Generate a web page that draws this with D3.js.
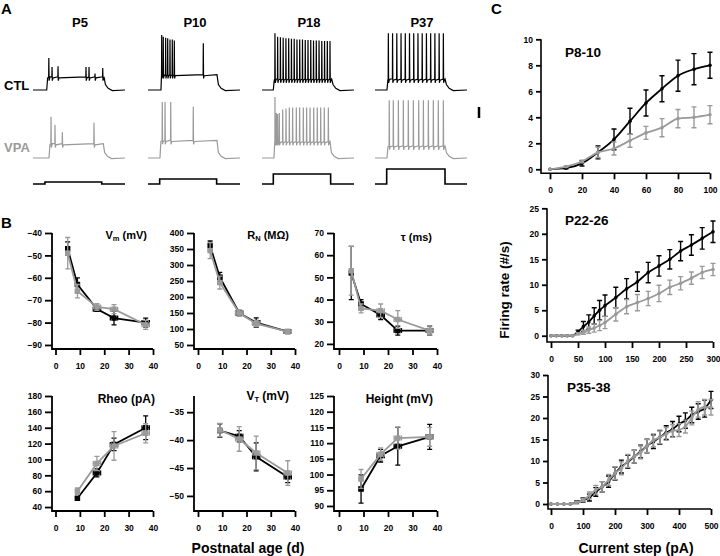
<!DOCTYPE html>
<html><head><meta charset="utf-8">
<script src="https://cdn.jsdelivr.net/npm/d3@7"></script>
<style>
body{margin:0;background:#fff}
text{font-family:"Liberation Sans",Arial,sans-serif;font-weight:bold}
</style>
</head><body>
<svg id="c" width="720" height="556"></svg>
<script>
// ---------------- DATA ----------------
// Panel A: example recordings (time in ms, voltage in mV, step in pA)
const ageLabels = ["P5", "P10", "P18", "P37"];
const stepAmp = [20, 50, 100, 150];
const stepOn = [130, 127, 123, 127];
const stepOff = [747, 746, 746, 761];
const ctlOn = [149, 141, 123, 130];
const ctlOff = [772, 750, 757, 761];
const ctlPlateau = [-46, -42, -50, -50];
const ctlSpikes = [
  [[172,-12],[207,-28],[272,-27],[576,-28],[609,-28],[674,-40],[758,-30]],
  [[149,30],[166,27],[192,25],[214,24],[239,22],[264,22],[286,20],[601,15]],
  [[141,33],[170,27],[200,26],[230,25],[260,24],[290,24],[320,23],[350,23],[380,22],[410,22],[440,22],[470,21],[500,21],[530,21],[560,20],[590,20],[620,20],[650,19],[680,19],[710,19],[739,19]],
  [[145,33],[191,33],[237,33],[283,33],[329,33],[375,33],[421,33],[467,33],[513,33],[559,33],[605,33],[651,33],[697,33],[743,33]]
];
const vpaOn = [174, 130, 130, 130];
const vpaOff = [764, 750, 739, 761];
const vpaPlateau = [-44, -38, -40, -48];
const vpaSpikes = [
  [[196,5],[239,-10],[319,-23],[663,-6]],
  [[155,32],[185,32],[247,32],[492,23]],
  [[141,41],[156,12],[170,10],[188,12],[225,18],[261,20],[297,22],[333,22],[373,22],[409,22],[449,22],[485,22],[522,22],[562,22],[601,22],[638,22],[677,22],[721,22]],
  [[155,35],[199,35],[254,35],[308,35],[362,35],[417,35],[475,35],[526,35],[580,35],[634,35],[688,35],[743,35]]
];

// Panel B: developmental profile (age in days)
const bAges = [5, 9, 17, 24, 37];
const bAgesLate = [9, 17, 24, 37];
const bAgeErr = [0.5, 0.8, 1.5, 1.5, 1.5];
const bAgeErrLate = [0.8, 1.5, 1.5, 1.5];
const vmCTL = [-47, -63, -74, -78, -80], vmCTLErr = [3, 3, 1, 3, 2];
const vmVPA = [-49, -66, -73, -74, -81], vmVPAErr = [7, 3, 1.5, 2, 2];
const rnCTL = [360, 262, 150, 120, 92], rnCTLErr = [15, 15, 8, 15, 5];
const rnVPA = [345, 245, 150, 117, 92], rnVPAErr = [25, 20, 10, 10, 5];
const tauCTL = [52, 38, 33, 26, 26], tauCTLErr = [12, 2, 2, 2, 2];
const tauVPA = [53, 36, 35, 31, 26], tauVPAErr = [11, 2, 3, 4, 2];
const rheoCTL = [51, 83, 119, 140], rheoCTLErr = [2, 5, 8, 15];
const rheoVPA = [60, 95, 117, 133], rheoVPAErr = [4, 9, 18, 12];
const vtCTL = [-38.3, -39.3, -43, -46.6], vtCTLErr = [1.2, 1, 2.5, 1];
const vtVPA = [-38.2, -39.8, -42.3, -45.9], vtVPAErr = [1.2, 2.2, 3, 2.2];
const htCTL = [95.4, 106, 109, 112], htCTLErr = [4.5, 2, 6, 4];
const htVPA = [98.6, 106.5, 111.6, 112], htVPAErr = [3, 2, 3.5, 3];
const bXTicks = [0, 10, 20, 30, 40];

// Panel C: firing rate vs current step
const c1X = [0,10,20,30,40,50,60,70,80,90,100];
const c1CTL = [0,0.08,0.45,1.3,2.3,3.7,5.1,6.2,7.2,7.7,8.0];
const c1CTLErr = [0,0.05,0.2,0.5,0.8,1.0,1.0,1.0,1.2,1.2,1.0];
const c1VPA = [0,0.2,0.6,1.3,1.6,2.2,2.8,3.2,3.9,4.0,4.2];
const c1VPAErr = [0,0.05,0.1,0.4,0.5,0.5,0.5,0.7,0.7,0.8,0.7];
const c2X = [0,10,20,30,40,50,60,70,80,90,100,120,140,160,180,200,220,240,260,280,300];
const c2CTL = [0,0,0,0,0,0.8,1.8,2.7,3.9,5.0,5.9,7.5,9.2,10.6,12.4,13.7,15.0,16.6,17.8,19.1,20.4];
const c2CTLErr = [0,0,0,0,0,0.3,1,1.4,1.6,1.9,2.1,2,2,1.9,2,2,1.9,1.9,2,2.1,2.1];
const c2VPA = [0,0,0,0,0,0.4,0.7,1.1,1.5,2.0,2.6,4.2,5.7,6.5,7.3,8.3,9.5,10.3,11.3,12.4,13.0];
const c2VPAErr = [0,0,0,0,0,0.2,0.4,0.6,0.8,1,1.2,1.3,1.4,1.6,1.4,1.6,1.4,1.3,1.2,1.2,1.2];
const c3X = [0,20,40,60,80,100,120,140,160,180,200,220,240,260,280,300,320,340,360,380,400,420,440,460,480,500];
const c3CTL = [0,0,0,0,0.4,0.9,1.5,2.8,4.0,5.2,7.1,8.7,9.8,11.0,12.2,13.5,14.5,15.5,16.6,17.4,18.6,19.4,20.7,21.5,22.2,24.2];
const c3CTLErr = [0,0,0,0,0.3,0.5,0.8,1,1.2,1.3,1.5,1.5,1.5,1.5,1.5,1.6,1.6,1.6,1.6,1.8,1.8,1.8,1.8,1.8,2,2];
const c3VPA = [0,0,0,0,0.4,0.9,2.0,3.3,4.0,5.6,7.2,8.3,10.0,11.0,12.0,13.5,14.8,15.5,16.3,17.0,17.2,18.0,20.0,22.0,22.5,22.5];
const c3VPAErr = [0,0,0,0,0.2,0.4,0.8,1,1.2,1.3,1.5,1.5,1.5,1.5,1.5,1.5,1.5,1.5,1.5,1.5,1.5,1.5,1.6,1.8,1.8,1.8];

// ---------------- DRAW ----------------
const BLACK = "#000", GRAY = "#9a9a9a";
const svg = d3.select("#c");

function txt(x, y, s, size, opt = {}) {
  return svg.append("text").attr("x", x).attr("y", y).attr("font-size", size)
    .attr("text-anchor", opt.anchor || "start").attr("fill", opt.fill || "#000").text(s);
}
// panel letters
txt(1, 14, "A", 15);
txt(1, 228, "B", 15);
txt(491, 14, "C", 15);

// ---- Panel A ----
const colX = [33, 148, 262, 375];
const traceW = 92;
const line = d3.line();
function tracePoints(on, off, plat, spikes) {
  const b = -70;
  let pts = [[0, b], [on, b], [on + 10, plat - 2], [on + 35, plat]];
  spikes.forEach(([t, pk]) => {
    pts.push([t - 2, plat], [t, pk], [t + 3, plat - 7], [t + 10, plat - 2]);
  });
  pts.push([off, plat], [off + 15, b + 10], [off + 45, b + 3], [off + 90, b - 1], [1000, b]);
  pts.sort((a, c) => a[0] - c[0]);
  return pts;
}
ageLabels.forEach((lab, i) => {
  const x = d3.scaleLinear().domain([0, 1000]).range([colX[i], colX[i] + traceW]);
  const yC = d3.scaleLinear().domain([-70, 30]).range([90, 35]);
  const yV = d3.scaleLinear().domain([-70, 30]).range([158, 103]);
  const yS = d3.scaleLinear().domain([0, 150]).range([184, 169]);
  txt(colX[i] + traceW / 2 + 1, 27, lab, 13, { anchor: "middle" });
  const pc = tracePoints(ctlOn[i], ctlOff[i], ctlPlateau[i], ctlSpikes[i]).map(p => [x(p[0]), yC(p[1])]);
  svg.append("path").attr("d", line(pc)).attr("fill", "none").attr("stroke", BLACK).attr("stroke-width", 1.2);
  const pv = tracePoints(vpaOn[i], vpaOff[i], vpaPlateau[i], vpaSpikes[i]).map(p => [x(p[0]), yV(p[1])]);
  svg.append("path").attr("d", line(pv)).attr("fill", "none").attr("stroke", GRAY).attr("stroke-width", 1.2);
  const ps = [[0, 0], [stepOn[i], 0], [stepOn[i], stepAmp[i]], [stepOff[i], stepAmp[i]], [stepOff[i], 0], [1000, 0]]
    .map(p => [x(p[0]), yS(p[1])]);
  svg.append("path").attr("d", line(ps)).attr("fill", "none").attr("stroke", BLACK).attr("stroke-width", 1.6);
});
txt(4, 90, "CTL", 13);
txt(4, 152, "VPA", 13, { fill: GRAY });
// scale bar (20 mV)
{
  const yV = d3.scaleLinear().domain([-70, 30]).range([158, 103]);
  svg.append("line").attr("x1", 479).attr("x2", 479).attr("y1", yV(-60) - 34.5).attr("y2", yV(-40) - 34.5)
    .attr("stroke", BLACK).attr("stroke-width", 2.5);
}

// ---- Panel B ----
function styleAxis(g, fs) {
  g.select(".domain").remove();
  g.selectAll("line").attr("stroke", "#000").attr("stroke-width", 1.8);
  g.selectAll("text").attr("font-size", fs).attr("fill", "#000")
    .style("font-family", '"Liberation Sans",Arial,sans-serif').style("font-weight", "bold");
}
function drawB(cfg) {
  const x = d3.scaleLinear().domain([0, 40]).range(cfg.xr);
  const y = d3.scaleLinear().domain(cfg.yd).range(cfg.yr);
  const g = svg.append("g");
  g.append("path").attr("d", `M${cfg.ax},${cfg.yr[1]}V${cfg.yr[0]}H${cfg.xr[1]}`)
    .attr("fill", "none").attr("stroke", "#000").attr("stroke-width", 1.8);
  const ya = g.append("g").attr("transform", `translate(${cfg.ax},0)`)
    .call(d3.axisLeft(y).tickValues(cfg.yt).tickSize(7).tickPadding(3));
  styleAxis(ya, 8.5);
  const xa = g.append("g").attr("transform", `translate(0,${cfg.yr[0]})`)
    .call(d3.axisBottom(x).tickValues(bXTicks).tickSize(6).tickPadding(8));
  styleAxis(xa, 8.5);
  const t = g.append("text").attr("x", cfg.tx).attr("y", cfg.ty).attr("text-anchor", "end").attr("font-size", cfg.tfs || 11);
  cfg.title.forEach(([s, sub]) => {
    if (sub) t.append("tspan").attr("font-size", 7.5).attr("dy", 2.5).text(s);
    else t.append("tspan").attr("dy", t.selectAll("tspan").size() && cfg.title.some(q => q[1]) ? -2.5 : 0).text(s);
  });
  cfg.series.forEach(s => {
    const pts = s.ages.map((a, i) => ({ x: x(a), y: y(s.v[i]), e: s.e[i], ae: s.ae[i], a, v: s.v[i] }));
    g.append("path").attr("d", d3.line()(pts.map(p => [p.x, p.y])))
      .attr("fill", "none").attr("stroke", s.c).attr("stroke-width", 1.8);
    pts.forEach(p => {
      const y1 = y(p.v + p.e), y2 = y(p.v - p.e);
      g.append("path").attr("d", `M${p.x},${y1}V${y2}M${p.x - 2.5},${y1}H${p.x + 2.5}M${p.x - 2.5},${y2}H${p.x + 2.5}`)
        .attr("stroke", s.c).attr("stroke-width", 1.3).attr("fill", "none");
      const x1 = x(p.a - p.ae), x2 = x(p.a + p.ae);
      g.append("path").attr("d", `M${x1},${p.y}H${x2}M${x1},${p.y - 2.5}V${p.y + 2.5}M${x2},${p.y - 2.5}V${p.y + 2.5}`)
        .attr("stroke", s.c).attr("stroke-width", 1.3).attr("fill", "none");
      g.append("rect").attr("x", p.x - 2.7).attr("y", p.y - 2.7).attr("width", 5.4).attr("height", 5.4).attr("fill", s.c);
    });
  });
}
const topR = [349, 233], botR = [511, 396];
const colB = [
  { ax: 52, xr: [55.5, 153] },
  { ax: 194, xr: [198, 295] },
  { ax: 334, xr: [339, 437] }
];
drawB({ ...colB[0], yr: topR, yd: [-91.8, -40], yt: [-90, -80, -70, -60, -50, -40],
  title: [["V"], ["m", 1], [" (mV)"]], tx: 147, ty: 241,
  series: [{ ages: bAges, ae: bAgeErr, v: vmCTL, e: vmCTLErr, c: BLACK }, { ages: bAges, ae: bAgeErr, v: vmVPA, e: vmVPAErr, c: GRAY }] });
drawB({ ...colB[1], yr: topR, yd: [37.5, 400], yt: [50, 100, 150, 200, 250, 300, 350, 400],
  title: [["R"], ["N", 1], [" (MΩ)"]], tx: 289, ty: 241,
  series: [{ ages: bAges, ae: bAgeErr, v: rnCTL, e: rnCTLErr, c: BLACK }, { ages: bAges, ae: bAgeErr, v: rnVPA, e: rnVPAErr, c: GRAY }] });
drawB({ ...colB[2], yr: topR, yd: [17.7, 70], yt: [20, 30, 40, 50, 60, 70],
  title: [["τ (ms)"]], tx: 432, ty: 241,
  series: [{ ages: bAges, ae: bAgeErr, v: tauCTL, e: tauCTLErr, c: BLACK }, { ages: bAges, ae: bAgeErr, v: tauVPA, e: tauVPAErr, c: GRAY }] });
drawB({ ...colB[0], yr: botR, yd: [35, 180], yt: [40, 60, 80, 100, 120, 140, 160, 180],
  title: [["Rheo (pA)"]], tx: 155, ty: 403, tfs: 12,
  series: [{ ages: bAgesLate, ae: bAgeErrLate, v: rheoCTL, e: rheoCTLErr, c: BLACK }, { ages: bAgesLate, ae: bAgeErrLate, v: rheoVPA, e: rheoVPAErr, c: GRAY }] });
drawB({ ...colB[1], yr: botR, yd: [-52.7, -32.1], yt: [-50, -45, -40, -35],
  title: [["V"], ["T", 1], [" (mV)"]], tx: 289, ty: 402, tfs: 12,
  series: [{ ages: bAgesLate, ae: bAgeErrLate, v: vtCTL, e: vtCTLErr, c: BLACK }, { ages: bAgesLate, ae: bAgeErrLate, v: vtVPA, e: vtVPAErr, c: GRAY }] });
drawB({ ...colB[2], yr: botR, yd: [88.4, 125], yt: [90, 95, 100, 105, 110, 115, 120, 125],
  title: [["Height (mV)"]], tx: 433, ty: 403, tfs: 12,
  series: [{ ages: bAgesLate, ae: bAgeErrLate, v: htCTL, e: htCTLErr, c: BLACK }, { ages: bAgesLate, ae: bAgeErrLate, v: htVPA, e: htVPAErr, c: GRAY }] });
txt(248, 553, "Postnatal age (d)", 14, { anchor: "middle" });

// ---- Panel C ----
function drawC(cfg) {
  const x = d3.scaleLinear().domain(cfg.xd).range(cfg.xr);
  const y = d3.scaleLinear().domain(cfg.yd).range(cfg.yr);
  const g = svg.append("g");
  g.append("path").attr("d", `M${cfg.ax},${cfg.yr[1]}V${cfg.yr[0]}H${cfg.xr[1]}`)
    .attr("fill", "none").attr("stroke", "#000").attr("stroke-width", 1.6);
  const ya = g.append("g").attr("transform", `translate(${cfg.ax},0)`)
    .call(d3.axisLeft(y).tickValues(cfg.yt).tickSize(5).tickPadding(3));
  styleAxis(ya, 8.5);
  const xa = g.append("g").attr("transform", `translate(0,${cfg.yr[0]})`)
    .call(d3.axisBottom(x).tickValues(cfg.xt).tickSize(6).tickPadding(8));
  styleAxis(xa, 8.5);
  g.append("text").attr("x", cfg.tx).attr("y", cfg.ty).attr("font-size", 13.5).text(cfg.title);
  cfg.series.forEach(s => {
    const pts = cfg.xs.map((a, i) => ({ x: x(a), y: y(s.v[i]), v: s.v[i], e: s.e[i] }));
    g.append("path").attr("d", d3.line().curve(d3.curveMonotoneX)(pts.map(p => [p.x, p.y])))
      .attr("fill", "none").attr("stroke", s.c).attr("stroke-width", 1.8);
    pts.forEach(p => {
      if (p.e > 0) {
        const y1 = y(p.v + p.e), y2 = y(p.v - p.e);
        g.append("path").attr("d", `M${p.x},${y1}V${y2}M${p.x - 2.5},${y1}H${p.x + 2.5}M${p.x - 2.5},${y2}H${p.x + 2.5}`)
          .attr("stroke", s.c).attr("stroke-width", 1.4).attr("fill", "none");
      }
      g.append("circle").attr("cx", p.x).attr("cy", p.y).attr("r", 1.8).attr("fill", s.c);
    });
  });
}
drawC({ ax: 541, xr: [550, 710], yr: [173.3, 39.3], xd: [0, 100], yd: [-0.31, 10],
  xt: [0, 20, 40, 60, 80, 100], yt: [0, 2, 4, 6, 8, 10], title: "P8-10", tx: 565, ty: 57, xs: c1X,
  series: [{ v: c1CTL, e: c1CTLErr, c: BLACK }, { v: c1VPA, e: c1VPAErr, c: GRAY }] });
drawC({ ax: 547, xr: [551, 713], yr: [342, 208.3], xd: [0, 300], yd: [-1.23, 25],
  xt: [0, 50, 100, 150, 200, 250, 300], yt: [0, 5, 10, 15, 20, 25], title: "P22-26", tx: 565, ty: 225, xs: c2X,
  series: [{ v: c2CTL, e: c2CTLErr, c: BLACK }, { v: c2VPA, e: c2VPAErr, c: GRAY }] });
drawC({ ax: 548, xr: [551, 711], yr: [509, 375], xd: [0, 500], yd: [-1.16, 30],
  xt: [0, 100, 200, 300, 400, 500], yt: [0, 5, 10, 15, 20, 25, 30], title: "P35-38", tx: 567, ty: 392, xs: c3X,
  series: [{ v: c3CTL, e: c3CTLErr, c: BLACK }, { v: c3VPA, e: c3VPAErr, c: GRAY }] });
svg.append("text").attr("transform", "translate(509,290) rotate(-90)").attr("text-anchor", "middle")
  .attr("font-size", 13.5).text("Firing rate (#/s)");
txt(636, 553, "Current step (pA)", 14, { anchor: "middle" });
</script>
</body></html>
